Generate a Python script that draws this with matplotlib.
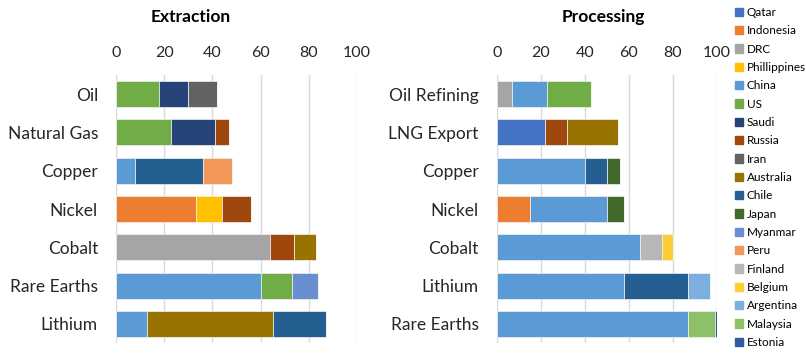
import matplotlib.pyplot as plt
import numpy as np

plt.rcParams['font.family'] = ['Lato', 'DejaVu Sans']

countries = ["Qatar", "Indonesia", "DRC", "Phillippines", "China", "US", "Saudi",
             "Russia", "Iran", "Australia", "Chile", "Japan", "Myanmar", "Peru",
             "Finland", "Belgium", "Argentina", "Malaysia", "Estonia"]
colors = ["#4472C4", "#ED7D31", "#A5A5A5", "#FFC000", "#5B9BD5", "#70AD47", "#264478",
          "#9E480E", "#636363", "#997300", "#255E91", "#43682B", "#698ED0", "#F1975A",
          "#B7B7B7", "#FFCD33", "#7CAFDD", "#8CC168", "#335AA1"]

extraction_cats = ["Oil", "Natural Gas", "Copper", "Nickel", "Cobalt", "Rare Earths", "Lithium"]
processing_cats = ["Oil Refining", "LNG Export", "Copper", "Nickel", "Cobalt", "Lithium", "Rare Earths"]

# share (%) per country, one value per category
extraction = {
    "Indonesia":    [0, 0, 0, 33, 0, 0, 0],
    "DRC":          [0, 0, 0, 0, 64, 0, 0],
    "Phillippines": [0, 0, 0, 11, 0, 0, 0],
    "China":        [0, 0, 8, 0, 0, 60, 13],
    "US":           [18, 23, 0, 0, 0, 13, 0],
    "Saudi":        [12, 18, 0, 0, 0, 0, 0],
    "Russia":       [0, 6, 0, 12, 10, 0, 0],
    "Iran":         [12, 0, 0, 0, 0, 0, 0],
    "Australia":    [0, 0, 0, 0, 9, 0, 52],
    "Chile":        [0, 0, 28, 0, 0, 0, 22],
    "Myanmar":      [0, 0, 0, 0, 0, 11, 0],
    "Peru":         [0, 0, 12, 0, 0, 0, 0],
}
processing = {
    "Qatar":     [0, 22, 0, 0, 0, 0, 0],
    "Indonesia": [0, 0, 0, 15, 0, 0, 0],
    "DRC":       [7, 0, 0, 0, 0, 0, 0],
    "China":     [16, 0, 40, 35, 65, 58, 87],
    "US":        [20, 0, 0, 0, 0, 0, 0],
    "Russia":    [0, 10, 0, 0, 0, 0, 0],
    "Australia": [0, 23, 0, 0, 0, 0, 0],
    "Chile":     [0, 0, 10, 0, 0, 29, 0],
    "Japan":     [0, 0, 6, 8, 0, 0, 0],
    "Finland":   [0, 0, 0, 0, 10, 0, 0],
    "Belgium":   [0, 0, 0, 0, 5, 0, 0],
    "Argentina": [0, 0, 0, 0, 0, 10, 0],
    "Malaysia":  [0, 0, 0, 0, 0, 0, 12],
    "Estonia":   [0, 0, 0, 0, 0, 0, 1],
}

W, H = 806, 355
fig = plt.figure(figsize=(W / 100, H / 100), dpi=100)
top, bottom = 75, 343
ax1 = fig.add_axes([116 / W, 1 - bottom / H, 241 / W, (bottom - top) / H])
ax2 = fig.add_axes([496.7 / W, 1 - bottom / H, 220 / W, (bottom - top) / H])


def stacked(ax, cats, data):
    y = np.arange(len(cats))
    left = np.zeros(len(cats))
    for name, col in zip(countries, colors):
        vals = np.array(data.get(name, [0] * len(cats)), dtype=float)
        ax.barh(y, vals, left=left, height=0.68, color=col,
                edgecolor="#f2f2f2", linewidth=0.5, zorder=3)
        left += vals
    ax.set_yticks(y)
    ax.set_yticklabels(cats)
    ax.set_ylim(len(cats) - 0.5, -0.5)
    ax.set_xlim(0, 100)
    ax.set_xticks([0, 20, 40, 60, 80, 100])
    ax.xaxis.tick_top()
    ax.tick_params(axis="x", length=0, pad=11, labelsize=11.5, colors="#262626")
    ax.tick_params(axis="y", length=0, pad=13, labelsize=12.5, colors="#262626")
    ax.grid(axis="x", color="#d9d9d9", linewidth=1, zorder=0)
    for s in ax.spines.values():
        s.set_visible(False)


stacked(ax1, extraction_cats, extraction)
stacked(ax2, processing_cats, processing)

fig.text(191 / W, 1 - 17 / H, "Extraction", ha="center", va="center",
         fontsize=12.5, fontweight="bold")
fig.text(603 / W, 1 - 17 / H, "Processing", ha="center", va="center",
         fontsize=12.5, fontweight="bold")

handles = [plt.Rectangle((0, 0), 1, 1, color=c) for c in colors]
fig.legend(handles, countries, loc="upper left", bbox_to_anchor=(728 / W, 1.0),
           frameon=False, fontsize=8.5, handlelength=0.7, handleheight=0.7,
           handletextpad=0.3, labelspacing=0.62, borderaxespad=0.2)

fig.savefig("out.png", dpi=100)
